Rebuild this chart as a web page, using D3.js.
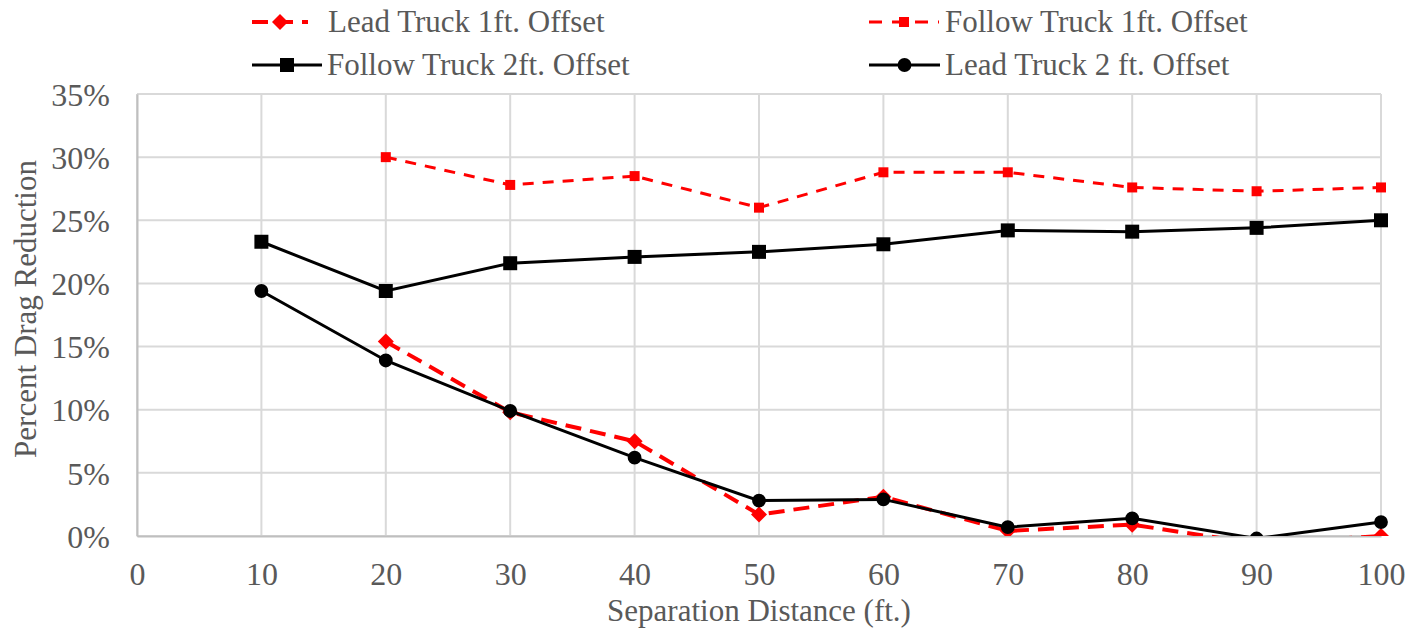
<!DOCTYPE html>
<html>
<head>
<meta charset="utf-8">
<script src="https://cdn.jsdelivr.net/npm/d3@7"></script>
<style>
  body { margin: 0; background: #fff; }
  text { font-family: "Liberation Serif", "Times New Roman", serif; fill: #595959; }
</style>
</head>
<body>
<div id="chart"></div>
<script>
// separation distances (ft.)
var distances = [10, 20, 30, 40, 50, 60, 70, 80, 90, 100];

// percent drag reduction (null = no point)
var leadTruck1ft   = [null, 15.4, 9.8, 7.5, 1.7, 3.1, 0.4, 0.9, -0.6, 0.0];
var followTruck1ft = [null, 30.0, 27.8, 28.5, 26.0, 28.8, 28.8, 27.6, 27.3, 27.6];
var followTruck2ft = [23.3, 19.4, 21.6, 22.1, 22.5, 23.1, 24.2, 24.1, 24.4, 25.0];
var leadTruck2ft   = [19.4, 13.9, 9.9, 6.2, 2.8, 2.9, 0.7, 1.4, -0.2, 1.1];

var xTicks = [0, 10, 20, 30, 40, 50, 60, 70, 80, 90, 100];
var yTicks = [0, 5, 10, 15, 20, 25, 30, 35];

var series = [
    {name: "Lead Truck 1ft. Offset", values: leadTruck1ft, color: "#ff0000", width: 4, dash: "16,9", marker: "diamond"},
    {name: "Follow Truck 1ft. Offset", values: followTruck1ft, color: "#ff0000", width: 3, dash: "11,9", marker: "smallsquare"},
    {name: "Follow Truck 2ft. Offset", values: followTruck2ft, color: "#000000", width: 3, dash: null, marker: "square"},
    {name: "Lead Truck 2 ft. Offset", values: leadTruck2ft, color: "#000000", width: 3, dash: null, marker: "circle"}
];

function chart() {
    var width = 1423;
    var height = 632;
    var left = 137, right = 1381, top = 94, bottom = 536;

    var canvas = d3.select("#chart")
        .append("svg")
        .attr("width", width)
        .attr("height", height);

    var xScale = d3.scaleLinear().domain([0, 100]).range([left, right]);
    var yScale = d3.scaleLinear().domain([0, 35]).range([bottom, top]);

    canvas.append("clipPath").attr("id", "plotclip")
        .append("rect")
        .attr("x", left - 10).attr("y", top - 10)
        .attr("width", right - left + 20).attr("height", bottom - top + 10);

    // gridlines
    canvas.append("g").selectAll("line")
        .data(yTicks)
        .enter().append("line")
        .attr("x1", left).attr("x2", right)
        .attr("y1", function(d) { return yScale(d); })
        .attr("y2", function(d) { return yScale(d); })
        .attr("stroke", "#d9d9d9").attr("stroke-width", 2);

    canvas.append("g").selectAll("line")
        .data(xTicks)
        .enter().append("line")
        .attr("x1", function(d) { return xScale(d); })
        .attr("x2", function(d) { return xScale(d); })
        .attr("y1", top).attr("y2", bottom)
        .attr("stroke", "#d9d9d9").attr("stroke-width", 2);

    // axes
    var xAxis = d3.axisBottom(xScale).tickValues(xTicks).tickSize(0);
    var yAxis = d3.axisLeft(yScale).tickValues(yTicks).tickSize(0)
        .tickFormat(function(d) { return d + "%"; });

    var gx = canvas.append("g")
        .attr("transform", "translate(0," + bottom + ")")
        .call(xAxis);
    gx.select(".domain").attr("stroke", "#bfbfbf").attr("stroke-width", 2);
    gx.selectAll("text").style("font-size", "32px").attr("fill", "#595959")
        .style("font-family", "Liberation Serif")
        .attr("y", 49).attr("dy", 0);

    var gy = canvas.append("g")
        .attr("transform", "translate(" + left + ",0)")
        .call(yAxis);
    gy.select(".domain").attr("stroke", "#bfbfbf").attr("stroke-width", 2);
    gy.selectAll("text").style("font-size", "32px").attr("fill", "#595959")
        .style("font-family", "Liberation Serif")
        .attr("x", -27).attr("dy", "0.35em");

    // axis titles
    canvas.append("text")
        .attr("text-anchor", "middle")
        .attr("x", (left + right) / 2)
        .attr("y", 621)
        .style("font-size", "31px")
        .text("Separation Distance (ft.)");

    canvas.append("text")
        .attr("text-anchor", "middle")
        .attr("transform", "translate(36," + ((top + bottom) / 2 - 6) + ") rotate(-90)")
        .style("font-size", "31px")
        .text("Percent Drag Reduction");

    var plot = canvas.append("g").attr("clip-path", "url(#plotclip)");

    series.forEach(function(s) {
        var pts = [];
        s.values.forEach(function(v, i) {
            if (v !== null) pts.push([distances[i], v]);
        });
        var line = d3.line()
            .x(function(d) { return xScale(d[0]); })
            .y(function(d) { return yScale(d[1]); });
        plot.append("path")
            .datum(pts)
            .attr("d", line)
            .attr("fill", "none")
            .attr("stroke", s.color)
            .attr("stroke-width", s.width)
            .attr("stroke-dasharray", s.dash);
        plot.append("g").selectAll("path")
            .data(pts)
            .enter().append("path")
            .attr("transform", function(d) { return "translate(" + xScale(d[0]) + "," + yScale(d[1]) + ")"; })
            .attr("d", markerPath(s.marker))
            .attr("fill", s.color);
    });

    // legend
    var legend = [
        {s: series[0], x: 252, len: 56, tx: 328, y: 22},
        {s: series[1], x: 869, len: 70, tx: 945, y: 22},
        {s: series[2], x: 252, len: 70, tx: 327, y: 65},
        {s: series[3], x: 869, len: 71, tx: 945, y: 65}
    ];
    legend.forEach(function(l) {
        var g = canvas.append("g").attr("transform", "translate(" + l.x + "," + l.y + ")");
        g.append("line")
            .attr("x1", 0).attr("x2", l.len).attr("y1", 0).attr("y2", 0)
            .attr("stroke", l.s.color)
            .attr("stroke-width", l.s.width)
            .attr("stroke-dasharray", l.s.dash ? (l.s.marker == "diamond" ? "16,9" : "13,10") : null);
        g.append("path")
            .attr("transform", "translate(" + (l.len / 2) + ",0)")
            .attr("d", markerPath(l.s.marker))
            .attr("fill", l.s.color);
        g.append("text")
            .attr("x", l.tx - l.x)
            .attr("y", 0)
            .attr("dy", "0.33em")
            .style("font-size", "31px")
            .text(l.s.name);
    });
}

function markerPath(type) {
    if (type == "diamond") return "M0,-8L8,0L0,8L-8,0Z";
    if (type == "smallsquare") return "M-5,-5H5V5H-5Z";
    if (type == "square") return "M-7,-7H7V7H-7Z";
    return d3.symbol().type(d3.symbolCircle).size(150)();
}

window.onload = chart;
</script>
</body>
</html>
